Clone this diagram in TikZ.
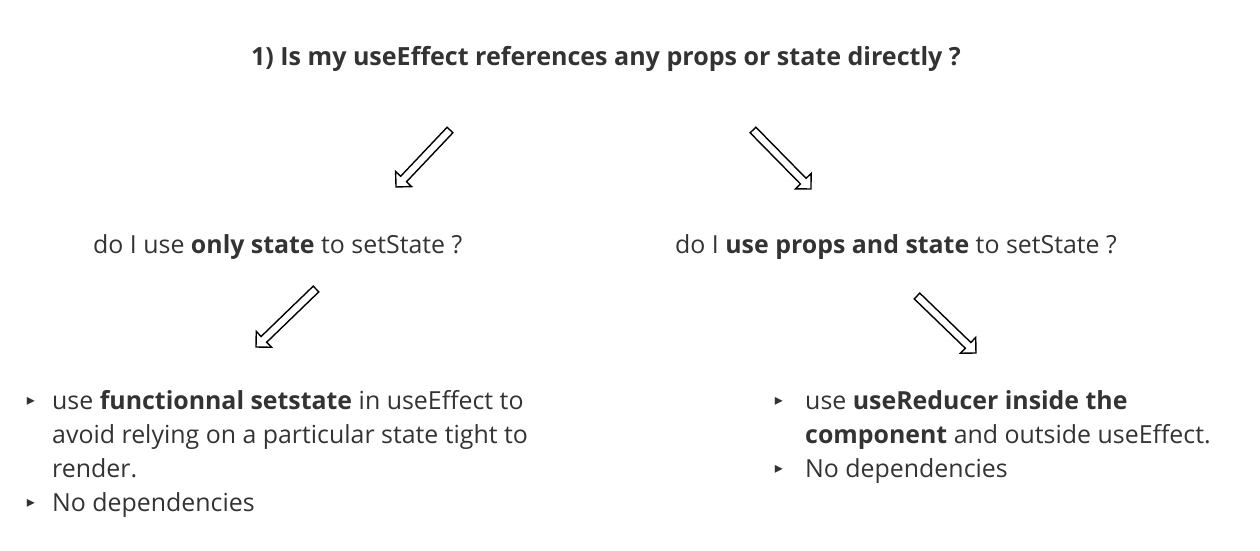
\documentclass[tikz,border=0pt]{standalone}
\usepackage{fontspec}
\setmainfont{Open Sans}
\newfontfamily\symfont{DejaVu Sans}
\usetikzlibrary{calc}
\definecolor{txt}{HTML}{333333}
\tikzset{
  txtline/.style={inner sep=0pt, anchor=base west, text=txt, font=\fontsize{24.9}{34}\selectfont},
  ttl/.style={inner sep=0pt, anchor=base, text=txt, font=\fontsize{25.05}{34}\selectfont\bfseries},
  bul/.style={inner sep=0pt, anchor=center, text=txt, font=\fontsize{16}{16}\selectfont\symfont},
  harrow/.style={draw=black, fill=white, line width=1.4pt, line join=miter}
}
\newcommand\hollowarrow[2]{%
  \draw[harrow] let \p1=($(#2)-(#1)$), \n1={atan2(\y1,\x1)}, \n2={veclen(\x1,\y1)} in
    [shift={(#1)}, rotate=\n1]
    (0,-4) -- (\n2-11,-4) -- (\n2-11,-11) -- (\n2,0) -- (\n2-11,11) -- (\n2-11,4) -- (0,4) -- cycle;
}
\begin{document}
\begin{tikzpicture}[x=1pt,y=1pt]
\useasboundingbox (0,0) rectangle (1260,-550);
\node[ttl] (title) at (606,-65) {1) Is my useEffect references any props or state directly ?};
\node[txtline] (qleft) at (93,-253) {do I use \textbf{only state} to setState ?};
\node[txtline] (qright) at (675,-253) {do I \textbf{use props and state} to setState ?};
% arrows
\coordinate (a1s) at (450,-130);
\coordinate (a1e) at (396,-187);
\coordinate (a2s) at (753,-130);
\coordinate (a2e) at (811,-189);
\coordinate (a3s) at (316,-289);
\coordinate (a3e) at (256,-347);
\coordinate (a4s) at (917,-296);
\coordinate (a4e) at (976,-353);
\hollowarrow{a1s}{a1e}
\hollowarrow{a2s}{a2e}
\hollowarrow{a3s}{a3e}
\hollowarrow{a4s}{a4e}
% left list
\node[bul] (lb1) at (31,-401) {▸};
\node[txtline] (l1a) at (52,-409) {use \textbf{functionnal setstate} in useEffect to};
\node[txtline] (l1b) at (52,-443) {avoid relying on a particular state tight to};
\node[txtline] (l1c) at (52,-477) {render.};
\node[bul] (lb2) at (31,-503) {▸};
\node[txtline] (l2a) at (52,-511) {No dependencies};
% right list
\node[bul] (rb1) at (779,-401) {▸};
\node[txtline] (r1a) at (805,-409) {use \textbf{useReducer inside the}};
\node[txtline] (r1b) at (805,-443) {\textbf{component} and outside useEffect.};
\node[bul] (rb2) at (779,-469) {▸};
\node[txtline] (r2a) at (805,-477) {No dependencies};
\end{tikzpicture}
\end{document}
